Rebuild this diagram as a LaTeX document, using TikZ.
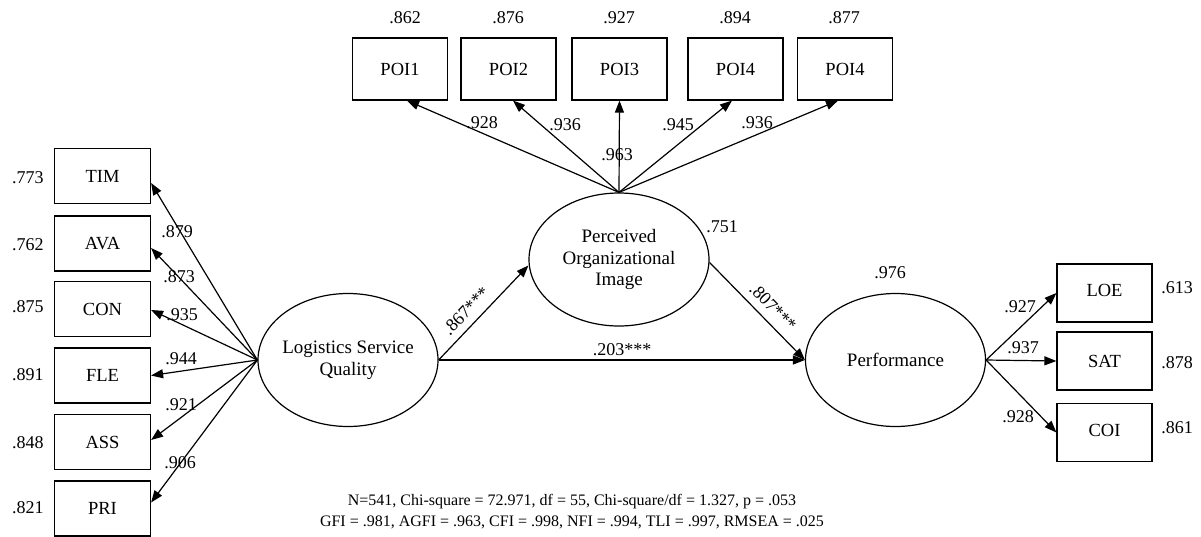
\documentclass[tikz,border=0pt]{standalone}
\usepackage{fontspec}
\setmainfont{Liberation Serif}
\usetikzlibrary{arrows.meta,shapes.geometric}
\begin{document}
\begin{tikzpicture}[x=1pt,y=-1pt,
  every node/.style={font=\fontsize{18}{21.5}\selectfont, inner sep=0pt},
  obs/.style={draw, line width=1.2pt, rectangle, minimum width=96pt, minimum height=55pt, font=\fontsize{18.5}{21.5}\selectfont},
  topobs/.style={obs, minimum width=95pt, minimum height=62pt},
  rightobs/.style={obs, minimum width=95pt, minimum height=58pt},
  lat/.style={draw, line width=1.2pt, ellipse, inner xsep=-6pt, inner ysep=0pt, minimum width=180pt, minimum height=133pt, align=center, font=\fontsize{19}{22}\selectfont},
  arr/.style={line width=1.2pt, -{Triangle[length=12pt,width=9pt]}},
  stat/.style={font=\fontsize{16}{19}\selectfont}]
\useasboundingbox (0,0) rectangle (1201,536);

% latent variables
\node[lat] (LSQ) at (348,360) {Logistics Service\\Quality};
\node[lat, font=\fontsize{19}{21.5}\selectfont] (POI) at (619,259.5) {Perceived\\Organizational\\Image};
\node[lat] (PERF) at (895.5,360) {Performance};

% left indicators
\node[obs] (TIM) at (102.5,176) {TIM};
\node[obs] (AVA) at (102.5,243.5) {AVA};
\node[obs] (CON) at (102.5,309) {CON};
\node[obs] (FLE) at (102.5,375.5) {FLE};
\node[obs] (ASS) at (102.5,442) {ASS};
\node[obs] (PRI) at (102.5,508.5) {PRI};

\node (rTIM) at (28,178) {.773};
\node (rAVA) at (28,245) {.762};
\node (rCON) at (28,307) {.875};
\node (rFLE) at (28,375) {.891};
\node (rASS) at (28,443) {.848};
\node (rPRI) at (28,508) {.821};

% top indicators
\node[topobs] (P1) at (400,69) {POI1};
\node[topobs] (P2) at (508.5,69) {POI2};
\node[topobs] (P3) at (619.5,69) {POI3};
\node[topobs] (P4) at (735.5,69) {POI4};
\node[topobs] (P5) at (845,69) {POI4};

\node (rP1) at (405,18) {.862};
\node (rP2) at (508,18) {.876};
\node (rP3) at (619,18) {.927};
\node (rP4) at (735,18) {.894};
\node (rP5) at (844,18) {.877};

% right indicators
\node[rightobs] (LOE) at (1104.5,293) {\raisebox{6pt}{LOE}};
\node[rightobs] (SAT) at (1104.5,361) {SAT};
\node[rightobs] (COI) at (1104.5,432.5) {\raisebox{5pt}{COI}};

\node (rLOE) at (1177,288) {.613};
\node (rSAT) at (1177,363) {.878};
\node (rCOI) at (1177,428) {.861};

% squared multiple correlations of latents
\node (rPOI) at (722,227) {.751};
\node (rPERF) at (890,273) {.976};

% LSQ loadings
\draw[arr] (LSQ.west) -- ([yshift=-7pt]TIM.east);
\draw[arr] (LSQ.west) -- ([yshift=-4.5pt]AVA.east);
\draw[arr] (LSQ.west) -- ([yshift=-1pt]CON.east);
\draw[arr] (LSQ.west) -- (FLE.east);
\draw[arr] (LSQ.west) -- ([yshift=2pt]ASS.east);
\draw[arr] (LSQ.west) -- ([yshift=6pt]PRI.east);

\node (lTIM) at (177,232) {.879};
\node (lAVA) at (179,277) {.873};
\node (lCON) at (182,315) {.935};
\node (lFLE) at (181,359) {.944};
\node (lASS) at (181,405) {.921};
\node (lPRI) at (180,463) {.906};

% POI loadings
\draw[arr] (POI.north) -- ([xshift=7pt]P1.south);
\draw[arr] (POI.north) -- ([xshift=4.5pt]P2.south);
\draw[arr] (POI.north) -- (P3.south);
\draw[arr] (POI.north) -- ([xshift=-3.5pt]P4.south);
\draw[arr] (POI.north) -- ([xshift=-7pt]P5.south);

\node (lP1) at (482,123) {.928};
\node (lP2) at (565,125) {.936};
\node (lP3) at (617,155) {.963};
\node (lP4) at (678,125) {.945};
\node (lP5) at (757,123) {.936};

% Performance loadings
\draw[arr] (PERF.east) -- (LOE.west);
\draw[arr] (PERF.east) -- (SAT.west);
\draw[arr] (PERF.east) -- (COI.west);

\node (lLOE) at (1020,307) {.927};
\node (lSAT) at (1023,348) {.937};
\node (lCOI) at (1018,417) {.928};

% structural paths
\draw[arr] (LSQ.east) -- ([yshift=-6pt]POI.west);
\draw[arr] ([yshift=-3pt]POI.east) -- (PERF.west);
\draw[arr] (LSQ.east) -- (PERF.west);

\node[rotate=46] (lLP) at (466,311) {.867***};
\node[rotate=-46] (lPP) at (773,307) {.807***};
\node (lLPe) at (622,350) {.203***};

% fit statistics
\node[stat] (stats1) at (572,502) {N=541, Chi-square = 72.971, df = 55, Chi-square/df = 1.327, p = .053};
\node[stat] (stats2) at (572,522) {GFI = .981, AGFI = .963, CFI = .998, NFI = .994, TLI = .997, RMSEA = .025};
\end{tikzpicture}
\end{document}
